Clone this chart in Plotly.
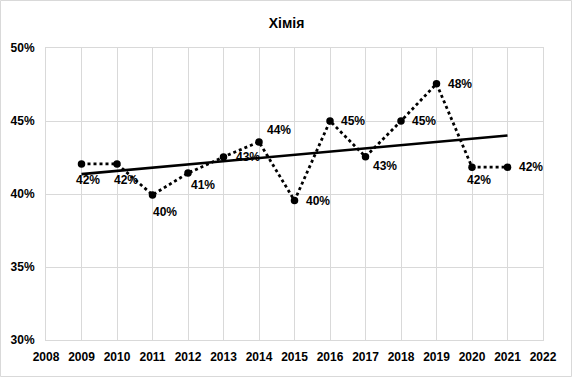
import numpy as np
import plotly.graph_objects as go

years = [2009, 2010, 2011, 2012, 2013, 2014, 2015, 2016, 2017, 2018, 2019, 2020, 2021]
values = [42.06, 42.06, 39.94, 41.43, 42.54, 43.57, 39.55, 45.0, 42.55, 45.0, 47.55, 41.84, 41.84]
y_ticks = [30, 35, 40, 45, 50]
x_ticks = list(range(2008, 2023))
title = "Хімія"

# label offsets (px) for each data label
label_dx = [6, 9, 11, 15, 24, 20, 23, 23, 19, 23, 23, 7, 23]
label_dy = [16, 16, 17, 12, 0, -12, 0, 0, 9, 0, 0, 13, 0]

FONT = "Liberation Sans"

fig = go.Figure()
fig.add_trace(go.Scatter(
    x=years, y=values, mode="lines+markers",
    line=dict(color="black", width=2.8, dash="dot"),
    marker=dict(color="black", size=7.5),
    showlegend=False, hoverinfo="skip",
))

coef = np.polyfit(years, values, 1)
trend_x = [years[0], years[-1]]
trend_y = list(np.polyval(coef, trend_x))
fig.add_trace(go.Scatter(
    x=trend_x, y=trend_y, mode="lines",
    line=dict(color="black", width=2.6),
    showlegend=False, hoverinfo="skip",
))

annotations = []
for i, (x, v) in enumerate(zip(years, values)):
    txt = f"<b>{round(v):.0f}%</b>"
    if x == 2011:
        annotations.append(dict(
            x=x, y=v, text=txt, showarrow=True, ax=label_dx[i] + 1, ay=label_dy[i],
            arrowhead=0, arrowwidth=0.8, arrowcolor="#a6a6a6", standoff=3,
            font=dict(family=FONT, size=12, color="black"),
        ))
    else:
        annotations.append(dict(
            x=x, y=v, text=txt, showarrow=False,
            xshift=label_dx[i], yshift=-label_dy[i],
            font=dict(family=FONT, size=12, color="black"),
        ))

fig.update_layout(
    width=573, height=377,
    margin=dict(l=46, r=30, t=48, b=37),
    paper_bgcolor="white", plot_bgcolor="white",
    title=dict(text=f"<b>{title}</b>", x=0.5, xanchor="center", y=0.94, yanchor="middle",
               font=dict(family=FONT, size=14, color="black")),
    font=dict(family=FONT, size=12, color="black"),
    annotations=annotations,
    shapes=[dict(type="rect", xref="paper", yref="paper", x0=-45.5/497, x1=1 + 28.5/497,
                 y0=-36.5/292, y1=1 + 47.5/292, line=dict(color="#d9d9d9", width=1))],
)
fig.update_xaxes(
    range=[2008, 2022], tickvals=x_ticks, ticktext=[f"<b>{t}</b>" for t in x_ticks],
    showgrid=True, gridcolor="#d9d9d9", gridwidth=1, zeroline=False,
    showline=True, linecolor="#d9d9d9", mirror=True, ticks="", ticklabelstandoff=6,
    tickfont=dict(family=FONT, size=12, color="black"),
)
fig.update_yaxes(
    range=[30, 50], tickvals=y_ticks, ticktext=[f"<b>{t}%</b>" for t in y_ticks],
    showgrid=True, gridcolor="#d9d9d9", gridwidth=1, zeroline=False,
    showline=True, linecolor="#d9d9d9", mirror=True, ticks="", ticklabelstandoff=8,
    tickfont=dict(family=FONT, size=12, color="black"),
)

fig.write_html("out.html", config={"displayModeBar": False},
               post_script="document.body.style.margin='0';document.body.style.padding='0';document.body.style.overflow='hidden';")
